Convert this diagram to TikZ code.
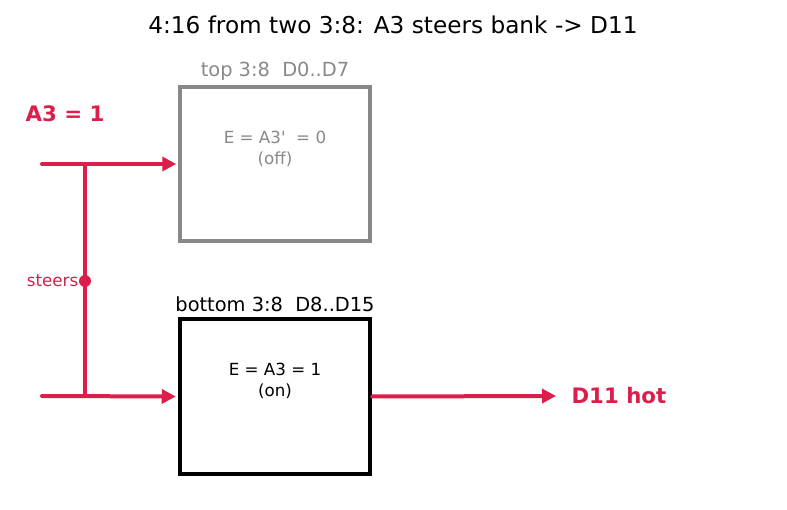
\documentclass[tikz,border=0pt]{standalone}
\usepackage{fontspec}
\setmainfont{DejaVu Sans}
\usepackage{tikz}
\usetikzlibrary{positioning,arrows.meta}
\definecolor{hot}{HTML}{DC1E4A}
\definecolor{offgray}{HTML}{888888}

\begin{document}
\begin{tikzpicture}[
  x=1pt,y=1pt,
  every node/.style={font=\fontsize{16.7}{21}\selectfont},
  decoder/.style={draw,minimum width=190pt,minimum height=154pt,inner sep=0pt},
  wire/.style={hot,line width=4pt},
  arrowed/.style={line cap=round,-{Triangle[length=14pt,width=14pt]}},
  point/.style={circle,fill=hot,inner sep=0pt,minimum size=12pt}
]
\useasboundingbox (0,0) rectangle (787,-510);

% title
\node (title) at (393,-25) {\fontsize{23.2}{26}\selectfont 4:16 from two 3:8: A3 steers bank -> D11};

% the two 3:8 decoders
\node[decoder,offgray,line width=3.5pt] (top) at (275,-164) {};
\node[decoder,black,line width=4.5pt,minimum height=155pt] (bot) at (275,-396.5) {};

\node[offgray,above=1pt of top,font=\fontsize{19.4}{22}\selectfont] (toplbl) {top 3:8\ \ D0..D7};
\node[black,above=1pt of bot,font=\fontsize{19.4}{22}\selectfont] (botlbl) {bottom 3:8\ \ D8..D15};

\node[offgray,align=center] (topen) at (275,-149) {E = A3\textquotesingle\ \ = 0\\(off)};
\node[black,align=center] (boten) at (275,-381) {E = A3 = 1\\(on)};

% select line A3
\coordinate (topin) at (42,-164);
\coordinate (botin) at (42,-396);
\coordinate (split) at (85,-164);
\coordinate (join) at (85,-396);
\coordinate (out) at (556,-396);

\draw[wire,arrowed,shorten >=2pt] (topin) -- (top.west);
\draw[wire,arrowed,shorten >=2pt] (botin) -- (bot.west);
\draw[wire] (split) -- (join);
\draw[wire,arrowed] (bot.east) -- (out);

% labels
\node[point] (steer) at (85,-281) {};
\node[hot,left=-3pt of steer] (steerlbl) {steers};
\node[hot,anchor=west,font=\bfseries\fontsize{21.3}{24}\selectfont] (a3) at (22,-114) {A3 = 1};
\node[hot,anchor=west,font=\bfseries\fontsize{21.3}{24}\selectfont] (d11) at (568,-396) {D11 hot};
\end{tikzpicture}
\end{document}
